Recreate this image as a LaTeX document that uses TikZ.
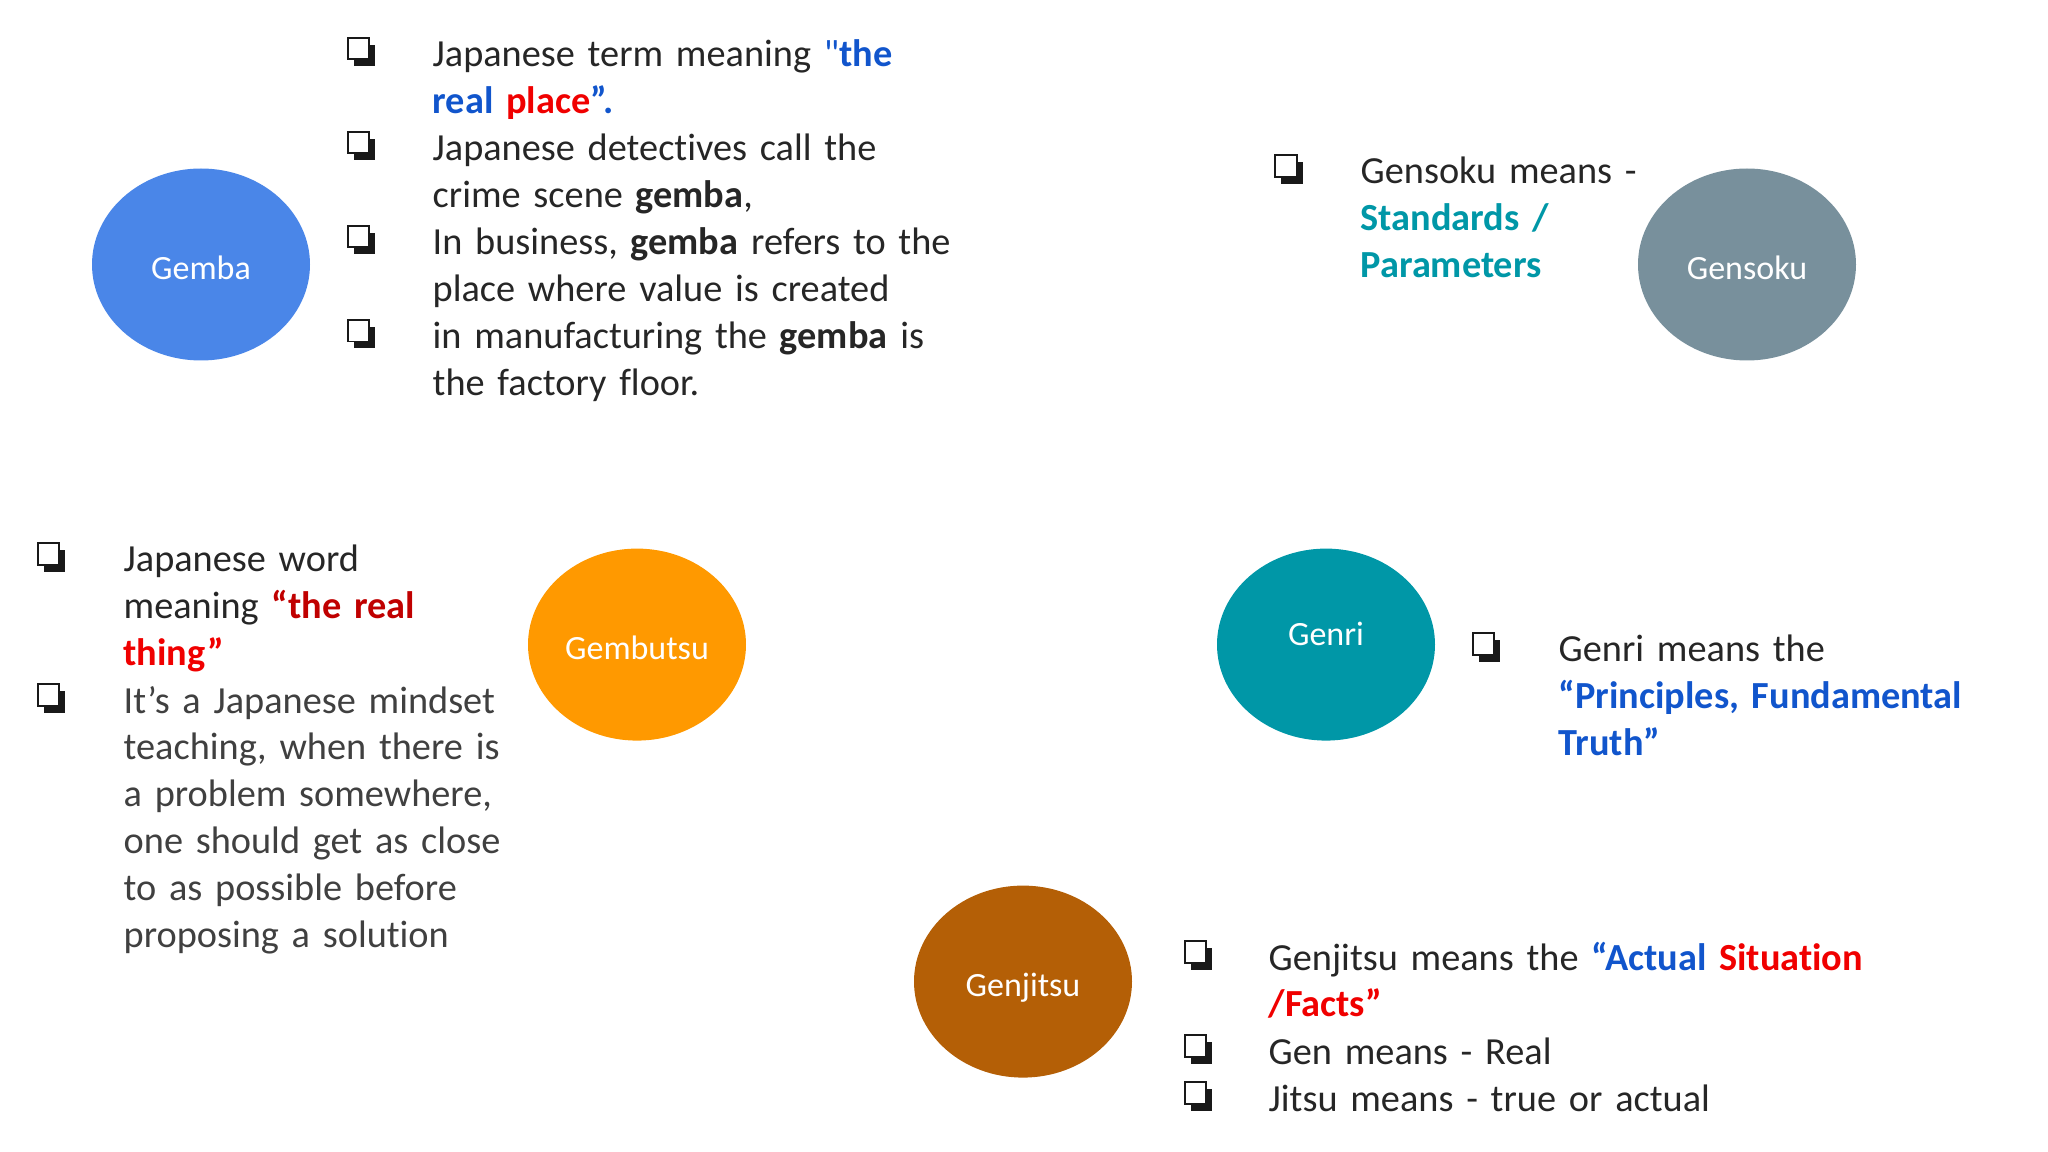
\documentclass[tikz,border=0pt]{standalone}
\usepackage{fontspec}
\setmainfont{Carlito}[Ligatures={TeXOff,CommonOff}]
\usepackage{xcolor}
\usepackage{tikz}
\usetikzlibrary{shapes,shadows}
\definecolor{gembablue}{RGB}{74,134,232}
\definecolor{gensokugray}{RGB}{120,144,156}
\definecolor{gembutsuorange}{RGB}{255,153,0}
\definecolor{genriteal}{RGB}{0,151,167}
\definecolor{genjitsubrown}{RGB}{180,95,6}
\definecolor{txtdark}{RGB}{38,38,38}
\definecolor{txtgray}{RGB}{64,64,64}
\definecolor{txtblue}{RGB}{17,85,204}
\definecolor{txtred}{RGB}{240,0,0}
\definecolor{txtdarkred}{RGB}{192,0,0}
\definecolor{txtteal}{RGB}{0,151,167}
\newcommand\bodysize{\fontsize{10.9pt}{13.37pt}\selectfont}
\tikzstyle{gennode} = [ellipse, minimum width=2.18cm, minimum height=1.92cm, inner sep=0pt, text=white, text height=0.30cm, text depth=0cm, font=\fontsize{9.67pt}{11pt}\selectfont]
\tikzstyle{sqbullet} = [rectangle, draw=black!90, line width=0.5pt, fill=white, minimum size=0.215cm, inner sep=0pt, yshift=0.18cm, drop shadow={shadow xshift=0.06cm, shadow yshift=-0.07cm, fill=black!90, opacity=1}]
\tikzstyle{desc} = [anchor=base west, inner sep=0pt, text width=9cm, align=left, font=\bodysize, text=txtdark]

\begin{document}
\begin{tikzpicture}
\useasboundingbox (0,0) rectangle (20.48,-11.52);

\node [gennode, fill=gembablue] (gemba) at (2.01,-2.645) {Gemba};
\node [gennode, fill=gensokugray] (gensoku) at (17.47,-2.645) {Gensoku};
\node [gennode, fill=gembutsuorange] (gembutsu) at (6.37,-6.446) {Gembutsu};
\node [gennode, fill=genriteal, text depth=0.28cm] (genri) at (13.26,-6.446) {Genri};
\node [gennode, fill=genjitsubrown] (genjitsu) at (10.23,-9.816) {Genjitsu};

% gemba
\node [sqbullet] (gb1) at (3.585,-0.665) {};
\node [sqbullet] (gb2) at (3.585,-1.606) {};
\node [sqbullet] (gb3) at (3.585,-2.546) {};
\node [sqbullet] (gb4) at (3.585,-3.487) {};
\node [desc] (gt1) at (4.32,-0.665) {Japanese term meaning {\color{txtblue}"\textbf{the}}\\ \textbf{{\color{txtblue}real} {\color{txtred}place}{\color{txtblue}”.}}};
\node [desc] (gt2) at (4.32,-1.606) {Japanese detectives call the\\ crime scene \textbf{gemba},};
\node [desc] (gt3) at (4.32,-2.546) {In business, \textbf{gemba} refers to the\\ place where value is created};
\node [desc] (gt4) at (4.32,-3.487) {in manufacturing the \textbf{gemba} is\\ the factory floor.};

% gensoku
\node [sqbullet] (sb1) at (12.86,-1.84) {};
\node [desc] (st1) at (13.60,-1.84) {Gensoku means -\\ {\color{txtteal}\textbf{Standards /}\\ \textbf{Parameters}}};

% gembutsu
\node [sqbullet] (bb1) at (0.485,-5.72) {};
\node [sqbullet] (bb2) at (0.485,-7.13) {};
\node [desc] (bt1) at (1.23,-5.72) {Japanese word\\ meaning {\color{txtdarkred}\textbf{“the real}}\\ {\color{txtred}\textbf{thing”}}};
\node [desc, text=txtgray] (bt2) at (1.23,-7.13) {It’s a Japanese mindset\\ teaching, when there is\\ a problem somewhere,\\ one should get as close\\ to as possible before\\ proposing a solution};

% genri
\node [sqbullet] (rb1) at (14.835,-6.62) {};
\node [desc] (rt1) at (15.58,-6.62) {Genri means the\\ {\color{txtblue}\textbf{“Principles, Fundamental}\\ \textbf{Truth”}}};

% genjitsu
\node [sqbullet] (jb1) at (11.955,-9.70) {};
\node [sqbullet] (jb2) at (11.955,-10.64) {};
\node [sqbullet] (jb3) at (11.955,-11.11) {};
\node [desc] (jt1) at (12.68,-9.70) {Genjitsu means the {\color{txtblue}\textbf{“Actual}} {\color{txtred}\textbf{Situation}\\ \textbf{/Facts”}}};
\node [desc] (jt2) at (12.68,-10.64) {Gen means - Real};
\node [desc] (jt3) at (12.68,-11.11) {Jitsu means - true or actual};

\end{tikzpicture}
\end{document}
